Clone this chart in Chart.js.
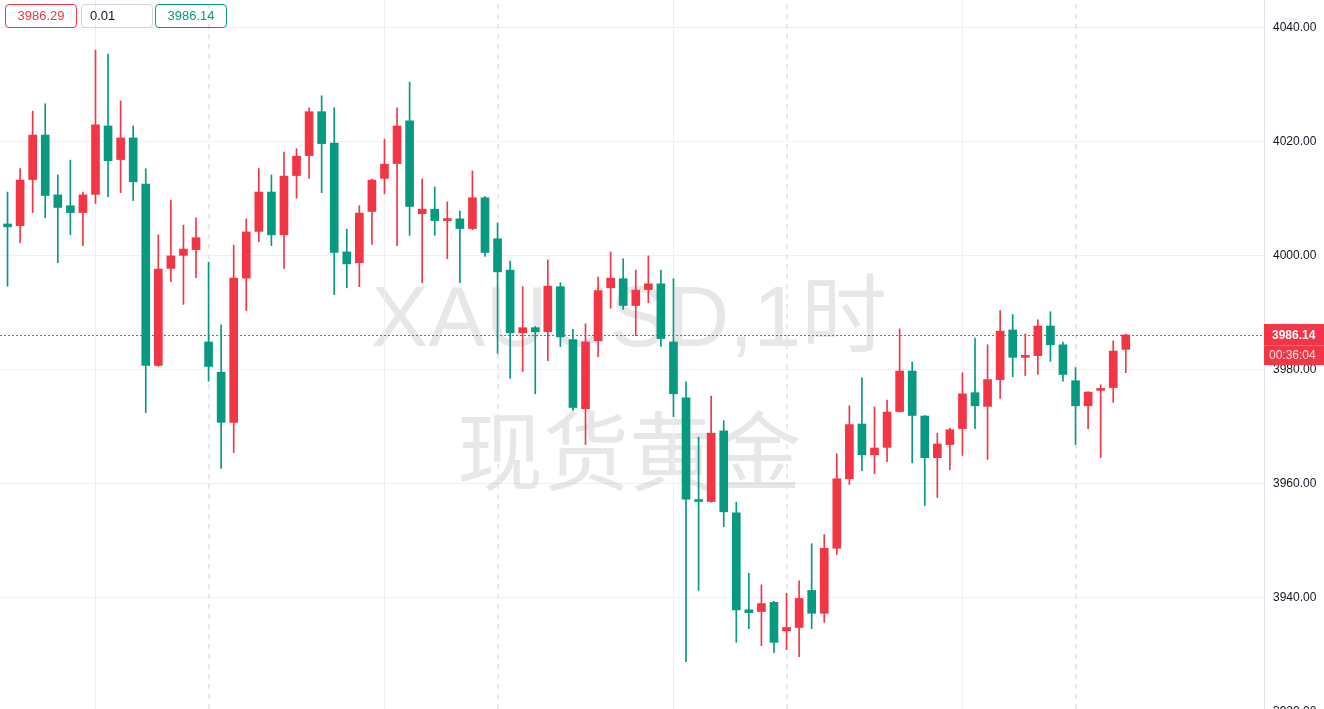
<!DOCTYPE html>
<html>
<head>
<meta charset="utf-8">
<script src="https://cdn.jsdelivr.net/npm/chart.js@4"></script>
<style>
html, body { margin: 0; padding: 0; background: #fff; overflow: hidden; }
#wrap { position: relative; width: 1324px; height: 709px; }
.box { position: absolute; top: 4px; height: 22px; width: 70px; border: 1px solid; border-radius: 4px;
       font: 13px "Liberation Sans", Arial, sans-serif; line-height: 22px; text-align: center; }
</style>
</head>
<body>
<div id="wrap">
  <canvas id="chart" width="1324" height="709"></canvas>
  <div class="box" style="left:5px;color:#F23645;border-color:#F23645">3986.29</div>
  <div class="box" style="left:81px;color:#131722;border-color:#d1d4dc;text-align:left;padding-left:8px;width:62px">0.01</div>
  <div class="box" style="left:155px;color:#089981;border-color:#089981">3986.14</div>
</div>
<script>
// XAUUSD 1h candles
const opens = [4005.6, 4005.3, 4013.4, 4021.2, 4010.7, 4008.8, 4007.6, 4010.8, 4022.8, 4016.9,
  4020.7, 4012.6, 3980.8, 3997.8, 4000.1, 4001.1, 3984.9, 3979.6, 3970.8, 3996.1,
  4004.3, 4011.2, 4003.7, 4014.1, 4017.6, 4025.3, 4019.8, 4000.7, 3998.8, 4007.8,
  4013.6, 4016.2, 4023.7, 4007.4, 4008.2, 4006.2, 4006.5, 4004.8, 4010.2, 4003.0,
  3997.5, 3986.5, 3987.4, 3986.7, 3994.6, 3985.3, 3973.2, 3985.1, 3994.4, 3996.0,
  3991.3, 3994.1, 3995.1, 3984.9, 3975.1, 3957.1, 3956.9, 3969.3, 3954.9, 3937.9,
  3937.6, 3939.2, 3934.2, 3934.8, 3941.3, 3937.3, 3948.7, 3960.9, 3970.5, 3965.1,
  3966.4, 3972.7, 3979.8, 3971.9, 3964.6, 3966.9, 3969.7, 3976.0, 3973.6, 3978.3,
  3987.0, 3982.2, 3982.5, 3987.7, 3984.4, 3978.1, 3973.7, 3976.4, 3976.9, 3983.6];
const highs = [4011.2, 4015.3, 4025.4, 4026.7, 4014.2, 4016.8, 4011.2, 4036.1, 4035.4, 4027.2,
  4022.8, 4015.3, 4003.7, 4009.8, 4005.4, 4006.7, 3998.9, 3987.9, 4001.9, 4006.5,
  4015.3, 4014.2, 4018.2, 4018.8, 4026.0, 4028.1, 4026.0, 4004.7, 4008.8, 4013.5,
  4020.5, 4026.0, 4030.5, 4013.5, 4012.1, 4009.5, 4007.9, 4014.9, 4010.4, 4005.8,
  3999.1, 3994.6, 3987.6, 3999.3, 3995.3, 3987.1, 3988.1, 3996.3, 4000.7, 3999.5,
  3997.5, 4000.0, 3997.5, 3996.0, 3977.9, 3968.2, 3975.4, 3971.1, 3956.8, 3944.3,
  3942.3, 3939.4, 3940.8, 3943.0, 3949.5, 3951.1, 3965.3, 3973.7, 3978.6, 3973.5,
  3974.7, 3987.2, 3981.4, 3972.0, 3968.9, 3969.8, 3979.5, 3985.6, 3984.4, 3990.4,
  3989.7, 3986.3, 3988.8, 3990.2, 3984.9, 3980.4, 3976.2, 3977.4, 3985.1, 3986.29];
const lows = [3994.7, 4002.3, 4007.6, 4006.7, 3998.8, 4003.7, 4001.8, 4009.2, 4010.4, 4011.1,
  4009.7, 3972.5, 3980.6, 3995.5, 3991.5, 3996.2, 3978.0, 3962.7, 3965.5, 3990.4,
  4002.5, 4001.8, 3997.8, 4010.1, 4013.6, 4011.1, 3993.2, 3994.4, 3994.6, 4002.0,
  4010.9, 4001.8, 4003.6, 3995.3, 4003.6, 3999.5, 3995.3, 4004.6, 3999.9, 3982.9,
  3978.5, 3979.7, 3975.8, 3981.6, 3984.1, 3972.9, 3966.9, 3982.3, 3990.8, 3990.6,
  3986.0, 3991.8, 3984.1, 3971.8, 3928.8, 3941.3, 3956.8, 3952.5, 3932.2, 3934.6,
  3931.6, 3930.4, 3930.9, 3929.7, 3934.6, 3935.7, 3947.6, 3959.9, 3962.3, 3961.8,
  3963.9, 3972.6, 3963.7, 3956.2, 3957.6, 3962.5, 3965.0, 3969.7, 3964.3, 3975.0,
  3978.8, 3979.0, 3979.2, 3981.5, 3978.0, 3966.9, 3969.7, 3964.6, 3974.3, 3979.5];
const closes = [4005.1, 4013.3, 4021.2, 4010.6, 4008.5, 4007.6, 4010.7, 4023.0, 4016.7, 4020.7,
  4013.0, 3980.8, 3997.7, 4000.0, 4001.2, 4003.2, 3980.6, 3970.8, 3996.1, 4004.2,
  4011.2, 4003.7, 4014.0, 4017.5, 4025.3, 4019.7, 4000.6, 3998.6, 4007.5, 4013.3,
  4016.1, 4022.8, 4008.7, 4008.2, 4006.2, 4006.5, 4004.8, 4010.2, 4000.6, 3997.2,
  3986.5, 3987.4, 3986.7, 3994.7, 3985.8, 3973.4, 3984.9, 3993.9, 3996.1, 3991.3,
  3994.0, 3995.1, 3985.5, 3975.8, 3957.3, 3956.9, 3968.9, 3955.1, 3937.9, 3937.4,
  3939.0, 3932.2, 3934.8, 3939.9, 3937.3, 3948.7, 3960.9, 3970.4, 3965.1, 3966.3,
  3972.6, 3979.8, 3972.0, 3964.6, 3967.0, 3969.5, 3975.8, 3973.7, 3978.3, 3986.8,
  3982.2, 3982.5, 3987.7, 3984.4, 3979.2, 3973.7, 3976.1, 3976.7, 3983.3, 3986.14];

// bar indices where the time grid lines fall
const timeLines = [7, 30, 53, 76];
const sessionLines = [16, 39, 62, 85];

const lastPrice = 3986.14;
const countdown = '00:36:04';
const watermark = ['XAUUSD,1时', '现货黄金'];

const UP = '#F23645';
const DOWN = '#089981';
const FONT = '"Liberation Sans", Arial, sans-serif';

const idx = opens.map((_, i) => i);
const colors = idx.map(i => closes[i] >= opens[i] ? UP : DOWN);

const overlay = {
    id: 'overlay',
    beforeDatasetsDraw(chart) {
        const { ctx, chartArea: a, scales: { x } } = chart;
        ctx.save();
        // watermark
        ctx.fillStyle = 'rgba(120,123,134,0.18)';
        ctx.textAlign = 'center';
        ctx.textBaseline = 'alphabetic';
        ctx.font = '86px "Liberation Sans", "Noto Sans CJK SC", sans-serif';
        const cx = (a.left + a.right) / 2 - 3;
        ctx.fillText(watermark[0], cx, 346);
        ctx.font = '86px "Noto Sans CJK SC", sans-serif';
        ctx.fillText(watermark[1], cx, 484);

        // vertical grid lines
        ctx.strokeStyle = '#f0f0f3';
        ctx.lineWidth = 1;
        timeLines.forEach(i => {
            const px = Math.round(x.getPixelForValue(i)) + 0.5;
            ctx.beginPath(); ctx.moveTo(px, a.top); ctx.lineTo(px, a.bottom); ctx.stroke();
        });
        ctx.strokeStyle = '#e8e9ee';
        ctx.lineWidth = 2;
        ctx.setLineDash([5, 5]);
        sessionLines.forEach(i => {
            const px = Math.round(x.getPixelForValue(i));
            ctx.beginPath(); ctx.moveTo(px, a.top + 4); ctx.lineTo(px, a.bottom); ctx.stroke();
        });
        ctx.restore();
    },
    afterDatasetsDraw(chart) {
        const { ctx, chartArea: a, scales: { y } } = chart;
        const py = Math.round(y.getPixelForValue(lastPrice));
        ctx.save();
        // dotted last-price line
        ctx.fillStyle = UP;
        for (let px = Math.round(a.left); px < a.right; px += 4) {
            ctx.fillRect(px, py, 2, 1);
        }
        ctx.restore();
    },
    afterDraw(chart) {
        const { ctx, chartArea: a, scales: { y } } = chart;
        ctx.save();
        // lowest tick, mostly below the canvas
        ctx.fillStyle = '#131722';
        ctx.font = '12px ' + FONT;
        ctx.textAlign = 'left';
        ctx.textBaseline = 'middle';
        ctx.fillText((3920).toFixed(2), a.right + 9, y.getPixelForValue(3920));

        // last price label
        const py = Math.round(y.getPixelForValue(lastPrice));
        ctx.fillStyle = UP;
        ctx.fillRect(a.right, py - 11, chart.width - a.right, 41);
        ctx.fillStyle = 'rgba(255,255,255,0.25)';
        ctx.fillRect(a.right, py + 10, chart.width - a.right, 1);
        ctx.fillStyle = '#fff';
        ctx.font = 'bold 12px ' + FONT;
        ctx.fillText(lastPrice.toFixed(2), a.right + 8, py + 1);
        ctx.fillStyle = 'rgba(255,255,255,0.85)';
        ctx.font = '12px ' + FONT;
        ctx.fillText(countdown, a.right + 5, py + 21);
        ctx.restore();
    }
};

new Chart(document.getElementById('chart'), {
    type: 'bar',
    data: {
        datasets: [{
            label: 'body',
            data: idx.map(i => ({ x: i, y: [opens[i], closes[i]] })),
            backgroundColor: colors,
            barThickness: 8,
            minBarLength: 2,
            grouped: false,
            order: 0
        }, {
            label: 'wick',
            data: idx.map(i => ({ x: i, y: [lows[i], highs[i]] })),
            backgroundColor: colors,
            barThickness: 1,
            grouped: false,
            order: 1
        }]
    },
    options: {
        responsive: false,
        animation: false,
        layout: { padding: 0 },
        plugins: {
            legend: { display: false },
            tooltip: { enabled: false }
        },
        scales: {
            x: {
                type: 'linear',
                display: false,
                offset: false,
                min: -0.6,
                max: 100
            },
            y: {
                position: 'right',
                min: 3920.5,
                max: 4044.9,
                grid: { color: '#f0f0f3', drawTicks: false },
                border: { color: '#e0e3eb' },
                ticks: {
                    stepSize: 20,
                    includeBounds: false,
                    padding: 9,
                    color: '#131722',
                    font: { size: 12, family: FONT },
                    callback: v => v.toFixed(2)
                },
                afterFit(scale) {
                    scale.width = 60;
                    scale.paddingTop = 0;
                    scale.paddingBottom = 0;
                }
            }
        }
    },
    plugins: [overlay]
});
</script>
</body>
</html>
